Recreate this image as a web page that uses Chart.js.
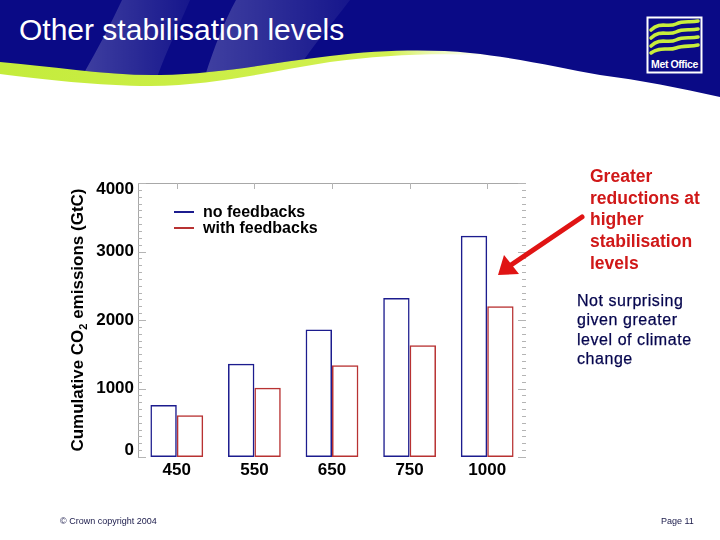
<!DOCTYPE html>
<html>
<head>
<meta charset="utf-8">
<script src="https://cdn.jsdelivr.net/npm/chart.js@4/dist/chart.umd.min.js"></script>
<style>
  html, body { margin:0; padding:0; background:#fff; }
  #page { position:relative; width:720px; height:540px; overflow:hidden; background:#fff; font-family:"Liberation Sans", Arial, sans-serif; }
  #hdr { position:absolute; left:0; top:0; }
  #overlay { position:absolute; left:0; top:0; pointer-events:none; }
  #title { position:absolute; left:19px; top:13px; color:#fff; font-size:30px; white-space:nowrap; }
  #chart { position:absolute; left:0; top:0; }
  .leg { position:absolute; left:174px; font-weight:bold; font-size:16px; line-height:16px; color:#000; white-space:nowrap; }
  .leg span.ln { display:inline-block; width:20px; height:0; border-top:2px solid; vertical-align:middle; margin-right:9px; position:relative; top:-1px; }
  #ytitle { position:absolute; left:-72px; top:310px; width:300px; height:20px; line-height:20px; text-align:center; transform:rotate(-90deg); font-weight:bold; font-size:17px; color:#000; white-space:nowrap; }
  #ytitle sub { font-size:11px; vertical-align:-4px; line-height:0; }
  #red { position:absolute; left:590px; top:166px; color:#d01818; font-weight:bold; font-size:17.5px; line-height:21.7px; }
  #navy { position:absolute; left:577px; top:291px; color:#06064e; font-size:16px; letter-spacing:0.55px; line-height:19.4px; -webkit-text-stroke:0.25px #06064e; }
  .foot { position:absolute; top:516px; font-size:9px; color:#1a1a4a; white-space:nowrap; }
</style>
</head>
<body>
<div id="page">
  <svg id="hdr" width="720" height="110" viewBox="0 0 720 110">
    <defs>
      <clipPath id="blueClip">
        <path d="M0,0 H720 V97 C680,88 640,80 600,75 C560,68 520,58 470,53 C430,49 380,50 330,56 C270,63 220,74 160,75 C110,76 50,66 0,62 Z"/>
      </clipPath>
      <linearGradient id="yg" x1="0" y1="0" x2="1" y2="0">
        <stop offset="0" stop-color="#c4ec3c"/>
        <stop offset="0.75" stop-color="#d2f050"/>
        <stop offset="1" stop-color="#ffffff" stop-opacity="0"/>
      </linearGradient>
      <linearGradient id="lb" x1="0" y1="0" x2="1" y2="0">
        <stop offset="0" stop-color="#ffffff" stop-opacity="0.22"/>
        <stop offset="1" stop-color="#ffffff" stop-opacity="0.05"/>
      </linearGradient>
    </defs>
    <path d="M0,56 C50,60 110,70 160,70 C220,69 270,57 330,50 C390,44 450,45 520,54 L520,57 C450,52 390,54 330,62 C270,71 220,85 150,86 C100,86 40,79 0,74 Z" fill="url(#yg)"/>
    <path d="M0,0 H720 V97 C680,88 640,80 600,75 C560,68 520,58 470,53 C430,49 380,50 330,56 C270,63 220,74 160,75 C110,76 50,66 0,62 Z" fill="#0a0a86"/>
    <g clip-path="url(#blueClip)">
      <path d="M122,0 L190,0 C178,28 166,52 156,80 L80,80 C96,52 110,26 122,0 Z" fill="url(#lb)"/>
      <path d="M236,0 L350,0 C332,24 314,44 300,66 L205,76 C214,48 224,22 236,0 Z" fill="url(#lb)"/>
    </g>
    <rect x="647.5" y="17.5" width="54" height="55" fill="#0a0a86" stroke="#ffffff" stroke-width="2"/>
    <g fill="none" stroke="#c8ee3c" stroke-width="3.6" stroke-linecap="round">
      <path d="M651,30 C660,21 668,28 676,24 C684,20 690,23 698,21"/>
      <path d="M651,38 C660,29 668,36 676,32 C684,28 690,31 698,29"/>
      <path d="M651,46 C660,37 668,44 676,40 C684,36 690,39 698,37"/>
      <path d="M651,53 C660,46 668,51 676,48 C684,45 690,47 698,45"/>
    </g>
    <text x="674.5" y="68" fill="#ffffff" font-family="Liberation Sans, Arial, sans-serif" font-weight="bold" font-size="10.5" text-anchor="middle" letter-spacing="-0.4">Met Office</text>
  </svg>
  <div id="title">Other stabilisation levels</div>
  <canvas id="chart" width="720" height="540"></canvas>
  <svg id="overlay" width="720" height="540" viewBox="0 0 720 540">
    <line x1="582" y1="217" x2="511" y2="265" stroke="#e01414" stroke-width="5" stroke-linecap="round"/>
    <polygon points="498,275 504,255 519,274" fill="#e01414"/>
  </svg>
  <div class="leg" style="top:204px;"><span class="ln" style="border-color:#1c1c8e;"></span>no feedbacks</div>
  <div class="leg" style="top:220px;"><span class="ln" style="border-color:#b83232;"></span>with feedbacks</div>
  <div id="ytitle">Cumulative CO<sub>2</sub> emissions (GtC)</div>
  <div id="red">Greater<br>reductions at<br>higher<br>stabilisation<br>levels</div>
  <div id="navy">Not surprising<br>given greater<br>level of climate<br>change</div>
  <div class="foot" style="left:60px;">© Crown copyright 2004</div>
  <div class="foot" style="left:661px;">Page 11</div>
</div>
<script>
const categories = ['450', '550', '650', '750', '1000'];
const noFeedbacks = [760, 1360, 1860, 2320, 3230];
const withFeedbacks = [610, 1010, 1340, 1630, 2200];
const yTickValues = [0, 1000, 2000, 3000, 4000];
const yMin = 0, yMax = 4000, yMinorStep = 100;

const frame = {
  id: 'frame',
  afterDatasetsDraw(chart) {
    const ctx = chart.ctx, a = chart.chartArea;
    const ys = chart.scales.y, xs = chart.scales.x;
    ctx.save();
    ctx.strokeStyle = '#a8a8a8';
    ctx.lineWidth = 1;
    ctx.beginPath();
    ctx.moveTo(a.left + 0.5, a.bottom);
    ctx.lineTo(a.left + 0.5, a.top + 0.5);
    ctx.lineTo(a.right, a.top + 0.5);
    ctx.stroke();
    ctx.strokeStyle = '#b4b4b4';
    for (let v = yMin; v <= yMax; v += yMinorStep) {
      const y = Math.round(ys.getPixelForValue(v)) + 0.5;
      const major = yTickValues.includes(v);
      const len = major ? 8 : 4;
      ctx.beginPath();
      ctx.moveTo(a.left, y); ctx.lineTo(a.left + len, y);
      ctx.moveTo(a.right, y); ctx.lineTo(a.right - len, y);
      ctx.stroke();
    }
    categories.forEach((c, i) => {
      const x = Math.round(xs.getPixelForValue(i)) + 0.5;
      ctx.beginPath();
      ctx.moveTo(x, a.top); ctx.lineTo(x, a.top + 6);
      ctx.stroke();
    });
    ctx.restore();
  }
};

new Chart(document.getElementById('chart'), {
  type: 'bar',
  data: {
    labels: categories,
    datasets: [
      { label: 'no feedbacks', data: noFeedbacks, backgroundColor: 'rgba(255,255,255,0)', borderColor: '#1c1c8e', borderWidth: 1.5, borderSkipped: false },
      { label: 'with feedbacks', data: withFeedbacks, backgroundColor: 'rgba(255,255,255,0)', borderColor: '#b83232', borderWidth: 1.5, borderSkipped: false }
    ]
  },
  options: {
    responsive: false,
    animation: false,
    devicePixelRatio: 1,
    layout: { padding: { left: 60, top: 183, right: 194, bottom: 53 } },
    datasets: { bar: { categoryPercentage: 0.68, barPercentage: 1.0 } },
    plugins: { legend: { display: false }, tooltip: { enabled: false } },
    scales: {
      x: {
        grid: { display: false, tickLength: 0 },
        border: { display: false },
        ticks: { color: '#000', font: { family: 'Liberation Sans', weight: 'bold', size: 17 }, padding: 3, maxRotation: 0 },
        afterFit(s) { s.height = 30; }
      },
      y: {
        min: yMin, max: yMax,
        afterBuildTicks(s) { s.ticks = yTickValues.map(v => ({ value: v })); },
        grid: { display: false, tickLength: 0 },
        border: { display: false },
        ticks: {
          color: '#000', padding: 4,
          font: { family: 'Liberation Sans', weight: 'bold', size: 17, lineHeight: 0.75 },
          callback(v) {
            if (v === yMax) return ['', String(v)];
            if (v === yMin) return [String(v), ''];
            return String(v);
          }
        },
        afterFit(s) { s.width = 78; }
      }
    }
  },
  plugins: [frame]
});
</script>
</body>
</html>
